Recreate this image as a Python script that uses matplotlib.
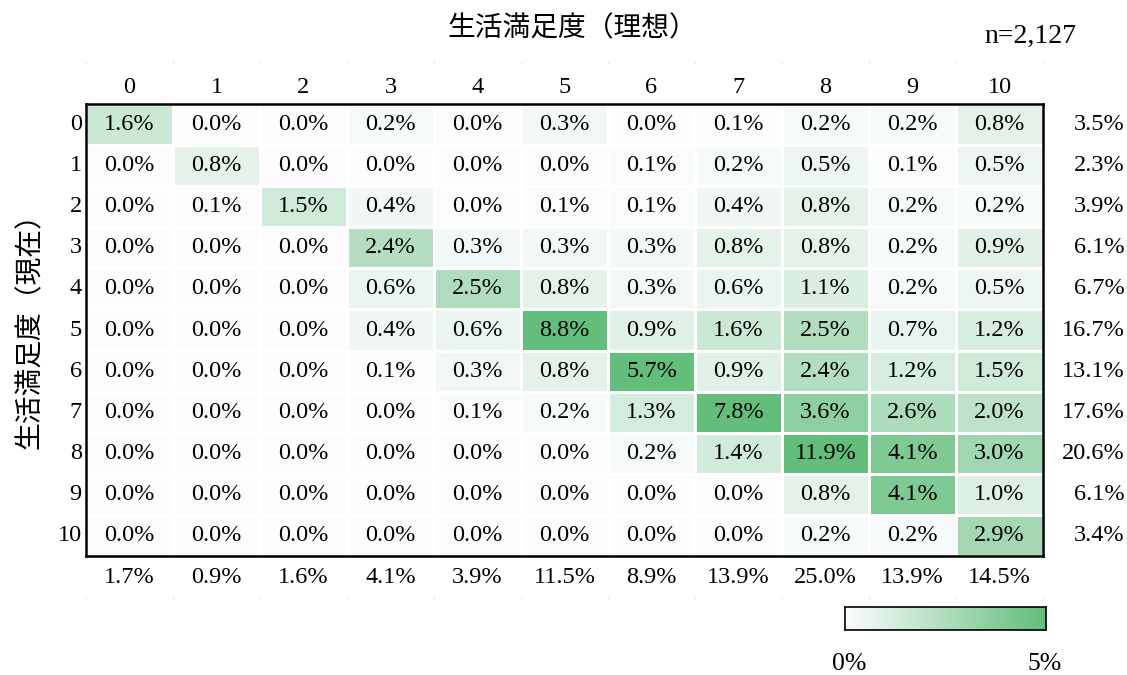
# heatmap of current vs ideal life satisfaction (share of respondents)
import numpy as np
import matplotlib.pyplot as plt
from matplotlib.colors import LinearSegmentedColormap

# data
scores = list(range(11))
cells = np.array([
    [1.6, 0.0, 0.0, 0.2, 0.0, 0.3, 0.0, 0.1, 0.2, 0.2, 0.8],
    [0.0, 0.8, 0.0, 0.0, 0.0, 0.0, 0.1, 0.2, 0.5, 0.1, 0.5],
    [0.0, 0.1, 1.5, 0.4, 0.0, 0.1, 0.1, 0.4, 0.8, 0.2, 0.2],
    [0.0, 0.0, 0.0, 2.4, 0.3, 0.3, 0.3, 0.8, 0.8, 0.2, 0.9],
    [0.0, 0.0, 0.0, 0.6, 2.5, 0.8, 0.3, 0.6, 1.1, 0.2, 0.5],
    [0.0, 0.0, 0.0, 0.4, 0.6, 8.8, 0.9, 1.6, 2.5, 0.7, 1.2],
    [0.0, 0.0, 0.0, 0.1, 0.3, 0.8, 5.7, 0.9, 2.4, 1.2, 1.5],
    [0.0, 0.0, 0.0, 0.0, 0.1, 0.2, 1.3, 7.8, 3.6, 2.6, 2.0],
    [0.0, 0.0, 0.0, 0.0, 0.0, 0.0, 0.2, 1.4, 11.9, 4.1, 3.0],
    [0.0, 0.0, 0.0, 0.0, 0.0, 0.0, 0.0, 0.0, 0.8, 4.1, 1.0],
    [0.0, 0.0, 0.0, 0.0, 0.0, 0.0, 0.0, 0.0, 0.2, 0.2, 2.9],
])
row_totals = [3.5, 2.3, 3.9, 6.1, 6.7, 16.7, 13.1, 17.6, 20.6, 6.1, 3.4]
col_totals = [1.7, 0.9, 1.6, 4.1, 3.9, 11.5, 8.9, 13.9, 25.0, 13.9, 14.5]

plt.rcParams['font.family'] = ['Liberation Serif', 'Noto Sans CJK JP']
jp = ['Noto Sans CJK JP']

cmap = LinearSegmentedColormap.from_list('wg', ['#FCFCFF', '#63BE7B'])

W, H = 1127, 675
fig = plt.figure(figsize=(W / 100, H / 100), dpi=100)

# main grid
ax = fig.add_axes([86 / W, 1 - 556 / H, (1043 - 86) / W, (556 - 104) / H])
ax.pcolormesh(np.arange(12), np.arange(12), cells, cmap=cmap, vmin=0, vmax=5,
              edgecolors='white', linewidth=2)
ax.set_xlim(0, 11)
ax.set_ylim(11, 0)
for s in ax.spines.values():
    s.set_linewidth(1.8)
    s.set_color('black')
ax.set_xticks([])
ax.set_yticks([])

fs = 17.5
for i in range(11):
    for j in range(11):
        ax.text(j + 0.5, i + 0.5, f'{cells[i, j]:.1f}%', ha='center', va='center',
                fontsize=fs)
    # row labels and totals
    ax.text(-0.05, i + 0.5, str(scores[i]), ha='right', va='center', fontsize=fs)
    ax.text(11.94, i + 0.5, f'{row_totals[i]:.1f}%', ha='right', va='center', fontsize=fs)
    # column labels and totals
    ax.text(i + 0.5, -0.4, str(scores[i]), ha='center', va='center', fontsize=fs)
    ax.text(i + 0.5, 11.52, f'{col_totals[i]:.1f}%', ha='center', va='center', fontsize=fs)

# faint separators above the header and below the totals
for k in range(12):
    ax.plot([k, k], [-1.03, -1.0], color='#e6e6e6', lw=1, clip_on=False)
    ax.plot([k, k], [12.0, 12.03], color='#e6e6e6', lw=1, clip_on=False)

fig.text(572 / W, 1 - 28 / H, '生活満足度（理想）', ha='center', va='center',
         fontsize=20, family=jp)
fig.text(1030 / W, 1 - 36 / H, 'n=2,127', ha='center', va='center', fontsize=20)
fig.text(30 / W, 1 - 324 / H, '生活満足度（現在）', ha='center', va='center',
         fontsize=20, family=jp, rotation=90)

# color scale bar
cax = fig.add_axes([845 / W, 1 - 630 / H, (1046 - 845) / W, (630 - 607) / H])
cax.imshow(np.linspace(0, 5, 256)[None, :], cmap=cmap, vmin=0, vmax=5,
           aspect='auto', extent=[0, 5, 0, 1])
cax.set_xticks([])
cax.set_yticks([])
for s in cax.spines.values():
    s.set_linewidth(1.2)
fig.text(849 / W, 1 - 664 / H, '0%', ha='center', va='center', fontsize=18.5)
fig.text(1045 / W, 1 - 664 / H, '5%', ha='center', va='center', fontsize=18.5)

fig.savefig('out.png', dpi=100)
